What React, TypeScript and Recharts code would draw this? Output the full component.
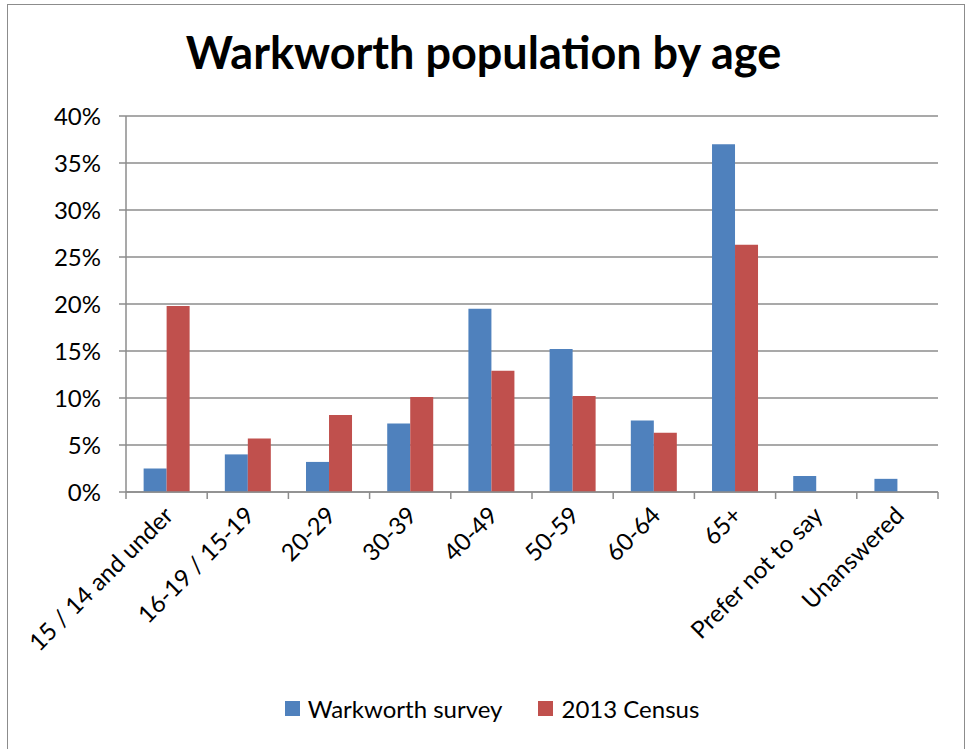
import React from 'react';
import { BarChart, Bar, XAxis, YAxis, CartesianGrid, Legend } from 'recharts';

const categories = [
  '15 / 14 and under',
  '16-19 / 15-19',
  '20-29',
  '30-39',
  '40-49',
  '50-59',
  '60-64',
  '65+',
  'Prefer not to say',
  'Unanswered',
];
const surveyValues = [2.5, 4.0, 3.2, 7.3, 19.5, 15.2, 7.6, 37.0, 1.7, 1.4];
const censusValues = [19.8, 5.7, 8.2, 10.1, 12.9, 10.2, 6.3, 26.3, null, null];
const yTicks = [0, 5, 10, 15, 20, 25, 30, 35, 40];
const seriesNames = ['Warkworth survey', '2013 Census'];

const data = categories.map((name, i) => ({
  name,
  survey: surveyValues[i],
  census: censusValues[i],
}));

const FONT = 'Lato, "Open Sans", sans-serif';
const GRID = '#8c8c8c';

const XTick = (props: any) => {
  const { x, y, payload, index } = props;
  const half = payload.offset || 40.6;
  const tx = x + 8;
  const ty = y + 17;
  return (
    <g>
      <line x1={x - half} y1={y - 8} x2={x - half} y2={y - 1} stroke={GRID} strokeWidth={1.5} />
      {index === categories.length - 1 && (
        <line x1={x + half} y1={y - 8} x2={x + half} y2={y - 1} stroke={GRID} strokeWidth={1.5} />
      )}
      <text
        x={tx}
        y={ty}
        transform={`rotate(-45 ${tx} ${ty})`}
        textAnchor="end"
        fontSize={24}
        fontFamily={FONT}
        fill="#000"
      >
        {payload.value}
      </text>
    </g>
  );
};

const LegendContent = (props: any) => {
  const items = [...(props.payload || [])].sort(
    (a: any, b: any) => seriesNames.indexOf(a.value) - seriesNames.indexOf(b.value)
  );
  return (
    <div
      style={{
        display: 'flex',
        justifyContent: 'center',
        gap: 36,
        marginLeft: 46,
        fontFamily: FONT,
        fontSize: 24,
      }}
    >
      {items.map((p: any) => (
        <div key={p.value} style={{ display: 'flex', alignItems: 'center' }}>
          <span style={{ width: 15, height: 15, background: p.color, marginRight: 8, display: 'inline-block' }} />
          <span>{p.value}</span>
        </div>
      ))}
    </div>
  );
};

export default function App() {
  return (
    <div style={{ position: 'absolute', left: 0, top: 0, width: 967, height: 749, background: '#fff', overflow: 'hidden' }}>
      <div
        style={{
          position: 'absolute',
          left: 7,
          top: 4,
          width: 958,
          height: 760,
          border: '1.5px solid #8c8c8c',
          boxSizing: 'border-box',
        }}
      />
      <div
        style={{
          position: 'absolute',
          left: 0,
          width: 967,
          top: 25,
          textAlign: 'center',
          fontFamily: FONT,
          fontWeight: 700,
          fontSize: 45,
          color: '#000',
        }}
      >
        Warkworth population by age
      </div>
      <div style={{ position: 'absolute', left: 0, top: 0 }}>
        <BarChart
          width={967}
          height={749}
          data={data}
          margin={{ top: 116, right: 29, left: 0, bottom: 26 }}
          barCategoryGap="21.7%"
          barGap={0}
        >
          <CartesianGrid vertical={false} stroke={GRID} strokeWidth={1.5} />
          <XAxis
            dataKey="name"
            interval={0}
            height={202}
            tickLine={false}
            axisLine={{ stroke: GRID, strokeWidth: 1.5 }}
            tick={<XTick />}
          />
          <YAxis
            width={126}
            domain={[0, 40]}
            ticks={yTicks}
            tickFormatter={(v: number) => `${v}%`}
            axisLine={{ stroke: GRID, strokeWidth: 1.5 }}
            tickLine={{ stroke: GRID, strokeWidth: 1.5 }}
            tickSize={7}
            tickMargin={18}
            tick={{ fontSize: 24, fontFamily: FONT, fill: '#000' }}
          />
          <Legend content={<LegendContent />} />
          <Bar dataKey="survey" name={seriesNames[0]} fill="#4F81BD" isAnimationActive={false} />
          <Bar dataKey="census" name={seriesNames[1]} fill="#C0504D" isAnimationActive={false} />
        </BarChart>
      </div>
    </div>
  );
}
